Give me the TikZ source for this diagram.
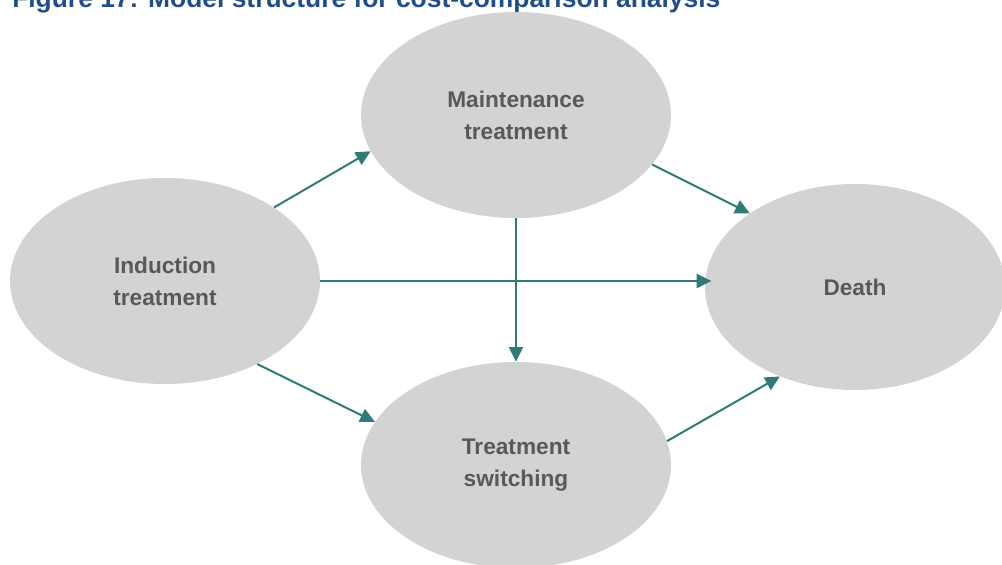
\documentclass[tikz,border=0pt]{standalone}
\usepackage{fontspec}
\setmainfont{Liberation Sans}
\usepackage{xcolor}
\usetikzlibrary{arrows.meta,shapes.geometric,positioning}

\definecolor{statefill}{HTML}{D3D3D3}
\definecolor{statetext}{HTML}{595959}
\definecolor{flowteal}{HTML}{2E7B78}
\definecolor{captionblue}{HTML}{214E8A}

\begin{document}
\begin{tikzpicture}[x=0.75pt,y=-0.75pt,
    state/.style={ellipse,fill=statefill,minimum width=232.5pt,minimum height=154.5pt,
        align=center,text=statetext,font=\fontsize{17}{24}\selectfont\bfseries},
    flow/.style={draw=flowteal,line width=1.5pt,-{Triangle[length=11pt,width=10.5pt]}}]
\useasboundingbox (0,0) rectangle (1002,564);
    % Caption, cut off at the top edge
\node[anchor=base west,inner sep=0pt,text=captionblue,font=\fontsize{19.8}{24}\selectfont\bfseries] (caption) at (12,7.5) {Figure 17: Model structure for cost-comparison analysis};
    % Health states
\node[state] (induction) at (165,281) {Induction\\treatment};
\node[state] (maintenance) at (516,115) {Maintenance\\treatment};
\node[state] (switching) at (516,465) {Treatment\\switching};
\node[state,minimum width=225pt] (death) at (855,287) {Death};
    % Transitions
\draw[flow] (induction.34) -- (maintenance.194);
\draw[flow] (induction.-42) -- (switching.163);
\draw[flow,shorten >=-5pt] (induction.east) -- (induction.east -| death.west);
\draw[flow] (maintenance.south) -- (switching.north);
\draw[flow] (maintenance.-20) -- (death.145);
\draw[flow] (switching.9) -- (death.230);
\end{tikzpicture}
\end{document}
